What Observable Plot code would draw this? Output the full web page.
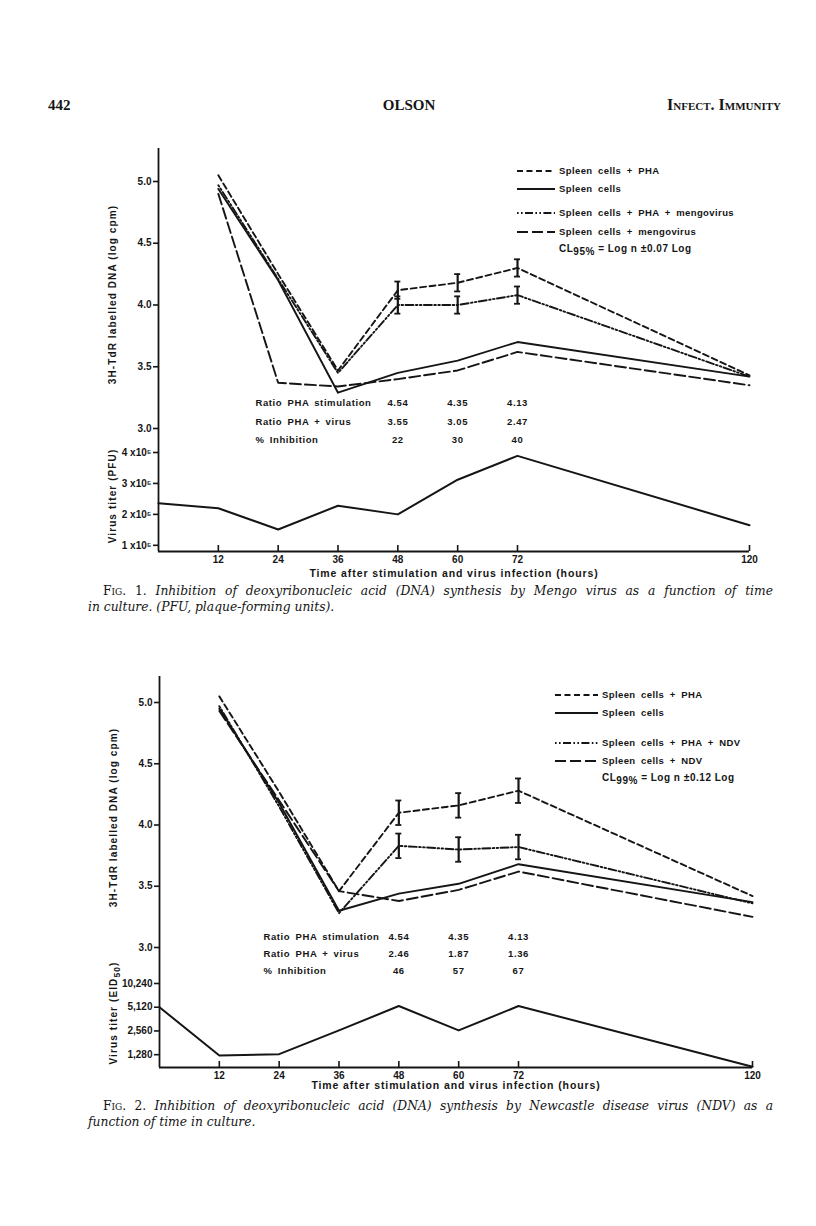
<!DOCTYPE html>
<html><head><meta charset="utf-8">
<script src="https://cdn.jsdelivr.net/npm/d3@7"></script>
<script src="https://cdn.jsdelivr.net/npm/@observablehq/plot@0.6"></script>
<style>
body{margin:0;background:#fff;}
#page{position:relative;width:816px;height:1226px;overflow:hidden;background:#fff;}
#page svg{position:absolute;left:0;top:0;}
.hdr{position:absolute;font-family:"Liberation Serif",serif;font-weight:bold;font-size:15px;color:#151515;line-height:16px;white-space:nowrap;}
.cap{position:absolute;font-family:"DejaVu Serif",serif;font-style:italic;font-size:12.3px;color:#151515;line-height:15px;white-space:nowrap;}
.cap.j{text-align:justify;text-align-last:justify;}
.cap .rm{font-style:normal;font-variant:small-caps;}
</style></head><body><div id="page"></div>
<script>
// ---------------- data ----------------
const hours = [12, 24, 36, 48, 60, 72, 120];
const titerHours = [0, 12, 24, 36, 48, 60, 72, 120];
const errHours = [48, 60, 72];
const tickHours = [12, 24, 36, 48, 60, 72, 120];
const dnaTicks = [3.0, 3.5, 4.0, 4.5, 5.0];

// Fig. 1 (Mengo virus)
const fig1Pha      = [5.05, 4.25, 3.47, 4.12, 4.18, 4.30, 3.43];
const fig1Spleen   = [4.94, 4.20, 3.29, 3.45, 3.55, 3.70, 3.42];
const fig1PhaVirus = [4.97, 4.21, 3.45, 4.00, 4.00, 4.08, 3.42];
const fig1Virus    = [4.90, 3.37, 3.34, 3.40, 3.47, 3.62, 3.35];
const fig1ErrHalf  = 0.07;
const fig1Pfu      = [2.36e5, 2.20e5, 1.51e5, 2.28e5, 2.00e5, 3.12e5, 3.89e5, 1.65e5];
const fig1PfuTicks = [1e5, 2e5, 3e5, 4e5];
const fig1Labels   = ["Spleen cells + PHA", "Spleen cells", "Spleen cells + PHA + mengovirus", "Spleen cells + mengovirus"];
const fig1CL       = ["95%", "0.07"];
const fig1RatioPha   = ["4.54", "4.35", "4.13"];
const fig1RatioVirus = ["3.55", "3.05", "2.47"];
const fig1Inhibition = ["22", "30", "40"];

// Fig. 2 (NDV)
const fig2Pha      = [5.05, 4.27, 3.46, 4.10, 4.16, 4.28, 3.42];
const fig2Spleen   = [4.95, 4.18, 3.30, 3.44, 3.52, 3.68, 3.37];
const fig2PhaVirus = [4.97, 4.15, 3.28, 3.83, 3.80, 3.82, 3.36];
const fig2Virus    = [4.93, 4.20, 3.46, 3.38, 3.47, 3.62, 3.25];
const fig2ErrHalf  = 0.10;
const fig2Eid      = [5120, 1250, 1300, 2600, 5300, 2600, 5300, 900];
const fig2EidTicks = [1280, 2560, 5120, 10240];
const fig2Labels   = ["Spleen cells + PHA", "Spleen cells", "Spleen cells + PHA + NDV", "Spleen cells + NDV"];
const fig2CL       = ["99%", "0.12"];
const fig2RatioPha   = ["4.54", "4.35", "4.13"];
const fig2RatioVirus = ["2.46", "1.87", "1.36"];
const fig2Inhibition = ["46", "57", "67"];

const rowLabels = ["Ratio PHA stimulation", "Ratio PHA + virus", "% Inhibition"];
const dnaLabel = "3H-TdR labelled DNA (log cpm)";
const xLabel = "Time after stimulation and virus infection (hours)";

// ---------------- styles ----------------
const INK = "#151515";
const FONT = "'Liberation Sans', Arial, sans-serif";
const dashes = ["6,3.5", null, "1.6,2.4,1.6,2.4,8,2.4", "11,4"];
const hasErr = [true, false, true, false];

const page = document.getElementById("page");

function overlay(frame, x, y, marks) {
  const svg = Plot.plot({
    width: 816, height: 1226,
    marginLeft: frame.left, marginRight: 816 - frame.right,
    marginTop: frame.top, marginBottom: 1226 - frame.bottom,
    style: {background: "transparent", fontFamily: FONT, fontSize: "10px", fontWeight: "bold", color: INK, maxWidth: "none", overflow: "visible"},
    x, y, marks
  });
  page.appendChild(svg);
  d3.select(svg).selectAll('[aria-label="y-axis label"] text').attr("letter-spacing", "1.1").style("font-size", "10px");
  d3.select(svg).selectAll('[aria-label="x-axis label"] text').attr("letter-spacing", "0.9").style("font-size", "10.5px");
  return svg;
}

function dnaPanel(f) {
  const series = [f.pha, f.spleen, f.phaVirus, f.virus];
  const marks = [
    Plot.ruleX([0], {stroke: INK, strokeWidth: 1.8}),
    Plot.axisY({ticks: dnaTicks, tickFormat: d3.format(".1f"), tickSize: 5, tickPadding: 2, strokeWidth: 1.6,
      label: dnaLabel, labelAnchor: "center", labelOffset: 50, labelArrow: "none"})
  ];
  series.forEach((vals, k) => {
    const data = hours.map((h, i) => ({h, v: vals[i]}));
    marks.push(Plot.line(data, {x: "h", y: "v", stroke: INK, strokeWidth: 1.9, strokeDasharray: dashes[k]}));
    if (hasErr[k]) {
      const eb = errHours.map(h => ({h, v: vals[hours.indexOf(h)]}));
      marks.push(Plot.ruleX(eb, {x: "h", y1: d => d.v - f.err, y2: d => d.v + f.err, stroke: INK, strokeWidth: 2.2}));
      marks.push(Plot.ruleY(eb, {y: d => d.v + f.err, x1: "h", x2: "h", insetLeft: -3, insetRight: -3, stroke: INK, strokeWidth: 1.8}));
      marks.push(Plot.ruleY(eb, {y: d => d.v - f.err, x1: "h", x2: "h", insetLeft: -3, insetRight: -3, stroke: INK, strokeWidth: 1.8}));
    }
  });
  const rows = [f.ratioPha, f.ratioVirus, f.inhibition];
  rows.forEach((r, j) => {
    marks.push(Plot.text(errHours.map((h, i) => ({h, t: r[i]})), {x: "h", text: "t", frameAnchor: "bottom", dy: f.rowDy[j], fill: INK, fontSize: 9.5}));
    marks.push(Plot.text([rowLabels[j]], {text: d => d, frameAnchor: "bottom-left", textAnchor: "start", dx: f.rowDx, dy: f.rowDy[j], fill: INK, fontSize: 9.5}));
  });
  const svg = overlay(f.frameTop, {type: "linear", domain: [0, 72, 120], range: f.xRange, axis: null}, {type: "linear", domain: [3, 5], range: f.yRange}, marks);
  d3.select(svg).selectAll('[aria-label="text"] text').attr("letter-spacing", "0.6").attr("word-spacing", "2");
}

function titerPanel(f) {
  const data = titerHours.map((h, i) => ({h, v: f.titer[i]}));
  const marks = [
    Plot.ruleX([0], {stroke: INK, strokeWidth: 1.8}),
    Plot.ruleY([f.yDomain[0]], {stroke: INK, strokeWidth: 1.8}),
    Plot.tickX(tickHours, {x: d => d, insetTop: (f.frameBot.bottom - f.frameBot.top) - 6, stroke: INK, strokeWidth: 1.6}),
    Plot.axisY({ticks: f.ticks, tickFormat: f.fmt, tickSize: 5, tickPadding: 2, strokeWidth: 1.6,
      label: f.yLabel, labelAnchor: "center", labelOffset: 50, labelArrow: "none"}),
    Plot.axisX({ticks: tickHours, tickFormat: d => d, tickSize: 0, tickPadding: 4,
      label: xLabel, labelAnchor: "center", labelOffset: f.xLabelOffset, labelArrow: "none"}),
    Plot.line(data, {x: "h", y: "v", stroke: INK, strokeWidth: 2})
  ];
  const svg = overlay(f.frameBot, {type: "linear", domain: [0, 72, 120], range: f.xRange}, {type: f.yType, domain: f.yDomain, range: f.yRangeBot}, marks);
  if (f.yLabelSub) {
    const t = d3.select(svg).select('[aria-label="y-axis label"] text');
    t.text(f.yLabel);
    t.append("tspan").attr("dy", "3").style("font-size", "8.5px").text(f.yLabelSub);
    t.append("tspan").attr("dy", "-3").text(")");
  }
}

function legend(f) {
  const svg = d3.select(page).append("svg").attr("width", 816).attr("height", 1226)
    .style("font-family", FONT).style("font-weight", "bold").style("font-size", "9.5px");
  f.labels.forEach((lab, k) => {
    const y = f.legY[k];
    svg.append("line").attr("x1", f.legX[0]).attr("x2", f.legX[1]).attr("y1", y).attr("y2", y)
      .attr("stroke", INK).attr("stroke-width", 1.9).attr("stroke-dasharray", dashes[k]);
    svg.append("text").attr("x", f.legX[1] + 4).attr("y", y).attr("dy", "0.35em").attr("fill", INK)
      .attr("word-spacing", "2.5").attr("letter-spacing", "0.4").text(lab);
  });
  const t = svg.append("text").attr("x", f.legX[1] + 4).attr("y", f.legY[4]).attr("dy", "0.1em").attr("fill", INK)
    .attr("letter-spacing", "0.5").style("font-size", "10px");
  t.append("tspan").text("CL");
  t.append("tspan").attr("dy", "3").style("font-size", "10px").text(f.cl[0]);
  t.append("tspan").attr("dy", "-3").text(" = Log n ");
  t.append("tspan").style("font-size", "10.5px").text("±");
  t.append("tspan").text(f.cl[1] + " Log");
}

const fig1 = {
  pha: fig1Pha, spleen: fig1Spleen, phaVirus: fig1PhaVirus, virus: fig1Virus, err: fig1ErrHalf,
  ratioPha: fig1RatioPha, ratioVirus: fig1RatioVirus, inhibition: fig1Inhibition,
  frameTop: {left: 158, right: 749, top: 148, bottom: 440},
  frameBot: {left: 158, right: 749, top: 440, bottom: 551},
  xRange: [158, 517, 749], yRange: [428, 181],
  rowDy: [-35, -16, 2], rowDx: 97, xLabelOffset: 25,
  titer: fig1Pfu, ticks: fig1PfuTicks, fmt: d => `${d / 1e5} x10⁵`, yLabel: "Virus titer (PFU)", yLabelSub: null,
  yType: "linear", yDomain: [0.8e5, 4e5], yRangeBot: [551, 452],
  labels: fig1Labels, cl: fig1CL, legX: [517, 555], legY: [171, 189, 213, 232, 251]
};
const fig2 = {
  pha: fig2Pha, spleen: fig2Spleen, phaVirus: fig2PhaVirus, virus: fig2Virus, err: fig2ErrHalf,
  ratioPha: fig2RatioPha, ratioVirus: fig2RatioVirus, inhibition: fig2Inhibition,
  frameTop: {left: 159, right: 752, top: 676, bottom: 958},
  frameBot: {left: 159, right: 752, top: 958, bottom: 1067},
  xRange: [159, 518, 752], yRange: [947, 702],
  rowDy: [-19, -2, 15], rowDx: 104, xLabelOffset: 21,
  titer: fig2Eid, ticks: fig2EidTicks, fmt: d3.format(","), yLabel: "Virus titer (EID", yLabelSub: "50",
  yType: "log", yDomain: [880, 10240], yRangeBot: [1067, 983],
  labels: fig2Labels, cl: fig2CL, legX: [555, 598], legY: [695, 713, 743, 761, 780]
};

[fig1, fig2].forEach(f => { dnaPanel(f); titerPanel(f); legend(f); });

// ---------------- page text ----------------
function div(cls, style, html) {
  const d = document.createElement("div");
  d.className = cls; Object.assign(d.style, style); d.innerHTML = html; page.appendChild(d);
}
div("hdr", {left: "48px", top: "97px"}, "442");
div("hdr", {left: "409px", top: "97px", transform: "translateX(-50%)"}, "OLSON");
div("hdr", {right: "35px", top: "97px", fontVariant: "small-caps", fontSize: "16px"}, "Infect. Immunity");

div("cap j", {left: "103px", top: "584px", width: "670px"}, '<span class="rm">Fig. 1.</span> Inhibition of deoxyribonucleic acid (DNA) synthesis by Mengo virus as a function of time');
div("cap", {left: "88px", top: "600px"}, "in culture. (PFU, plaque-forming units).");
div("cap j", {left: "103px", top: "1099px", width: "670px"}, '<span class="rm">Fig. 2.</span> Inhibition of deoxyribonucleic acid (DNA) synthesis by Newcastle disease virus (NDV) as a');
div("cap", {left: "88px", top: "1115px"}, "function of time in culture.");
</script></body></html>
